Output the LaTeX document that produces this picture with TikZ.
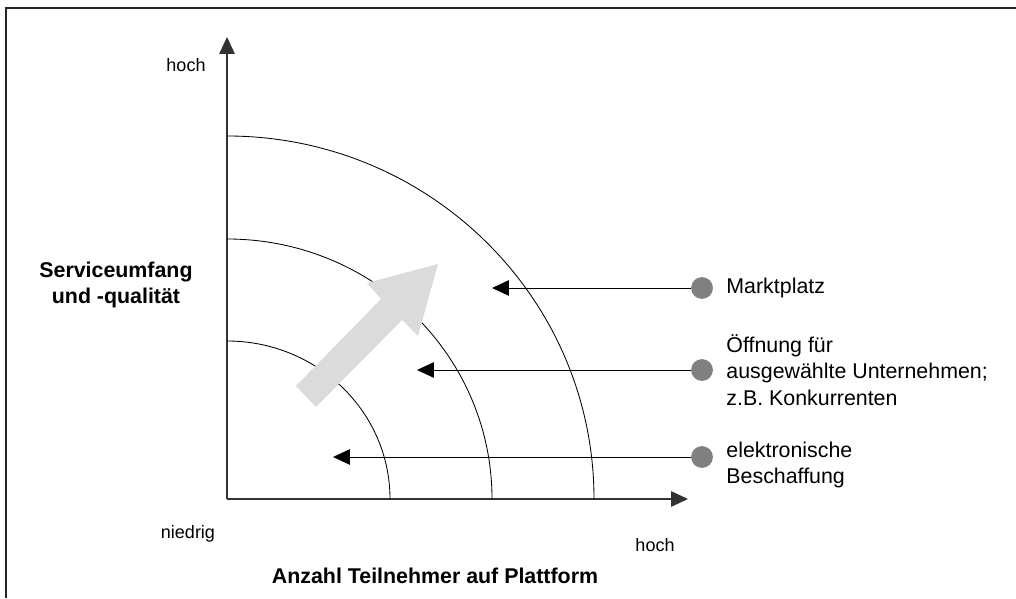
\documentclass[tikz,border=0pt]{standalone}
\usepackage{fontspec}
\setmainfont{Liberation Sans}
\usetikzlibrary{arrows.meta}
\tikzset{
	dot/.style={circle,fill=black!50,inner sep=0pt,minimum size=15.5},
	lbl/.style={inner sep=0pt,align=left,font=\fontsize{15.2pt}{19pt}\selectfont},
	endlbl/.style={inner sep=0pt,font=\fontsize{12.8pt}{15pt}\selectfont},
	axtitle/.style={inner sep=0pt,align=center,font=\fontsize{15.2pt}{18.5pt}\selectfont\bfseries},
	pointer/.style={-{Triangle[length=12,width=11]}},
}
\begin{document}
\begin{tikzpicture}[x=0.025cm,y=0.025cm,line width=0.6pt]
	\useasboundingbox (0,0) rectangle (1016,598);
	\draw[line width=1.4pt,black!85] (6,0)--(6,590)--(1016,590);
	% Achsen
	\coordinate (O) at (227,99);
	\coordinate (ytop) at (227,561);
	\coordinate (xend) at (688,99);
	\draw[pointer,black!80,line width=0.8pt] (O)--(ytop);
	\draw[pointer,black!80,line width=0.8pt] (O)--(xend);
	% Stufen
	\draw (227,257) arc[start angle=90,end angle=0,x radius=163,y radius=158];
	\draw (227,359) arc[start angle=90,end angle=0,x radius=265,y radius=260];
	\draw (227,462) arc[start angle=90,end angle=0,x radius=367,y radius=363];
	% Entwicklungspfeil
	\fill[black!14] (296,212)--(381,299)--(367,315)--(438,334)--(418,262)--(402,278)--(316,191)--cycle;
	% Beschriftung
	\node[endlbl] (hochy) at (186,533) {hoch};
	\node[endlbl] (niedrig) at (188,64) {niedrig};
	\node[endlbl] (hochx) at (655,53) {hoch};
	\node[axtitle] (service) at (116,313) {Serviceumfang\\und -qualit\"at};
	\node[axtitle] (anzahl) at (435,22) {Anzahl Teilnehmer auf Plattform};
	\node[dot] (d1) at (702,310) {};
	\node[dot] (d2) at (702,228) {};
	\node[dot] (d3) at (702,141) {};
	\node[lbl,anchor=west] (markt) at (726,310) {Marktplatz};
	\node[lbl,anchor=west] (oeff) at (726,228) {\"Offnung f\"ur\\ausgew\"ahlte Unternehmen;\\z.B. Konkurrenten};
	\node[lbl,anchor=west] (elek) at (726,133) {elektronische\\Beschaffung};
	\coordinate (t1) at (492,310);
	\coordinate (t2) at (417,228);
	\coordinate (t3) at (333,141);
	\draw[pointer] (d1)--(t1);
	\draw[pointer] (d2)--(t2);
	\draw[pointer] (d3)--(t3);
\end{tikzpicture}
\end{document}
